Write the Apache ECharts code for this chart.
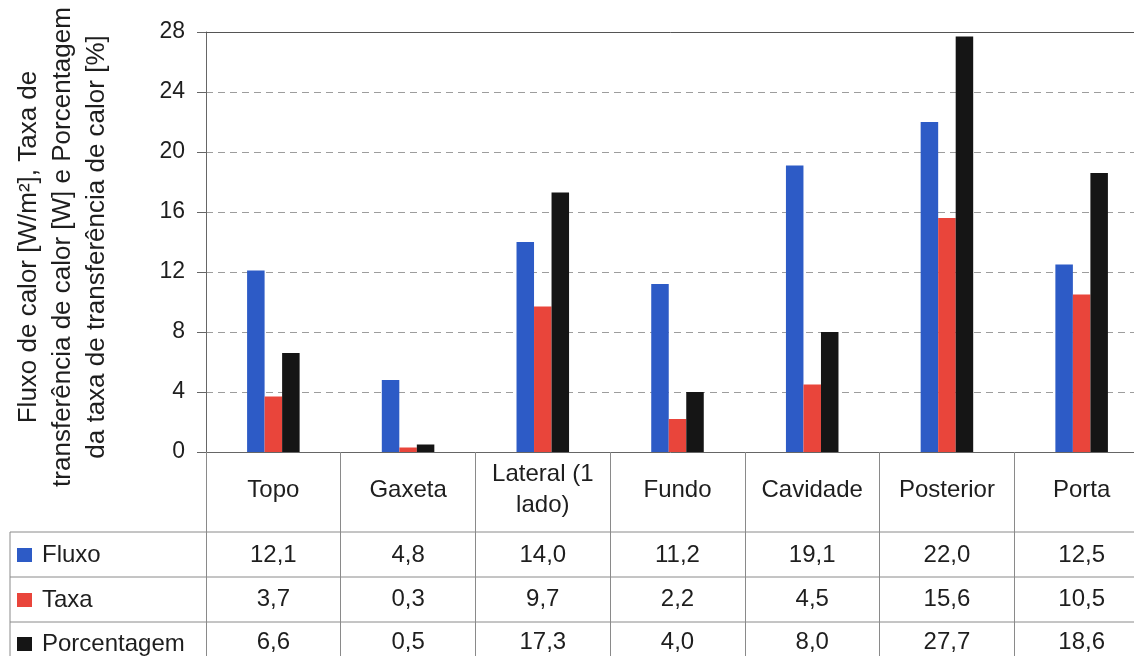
<!DOCTYPE html>
<html>
<head>
<meta charset="utf-8">
<script src="https://cdn.jsdelivr.net/npm/echarts@6/dist/echarts.min.js"></script>
<style>
  html, body { margin: 0; padding: 0; background: #fff; }
  #chart { width: 1134px; height: 656px; }
</style>
</head>
<body>
<div id="chart"></div>
<script>
// Regiões do refrigerador
const categories = ['Topo', 'Gaxeta', 'Lateral (1\nlado)', 'Fundo', 'Cavidade', 'Posterior', 'Porta'];
// Fluxo de calor [W/m²]
const fluxo = [12.1, 4.8, 14.0, 11.2, 19.1, 22.0, 12.5];
// Taxa de transferência de calor [W]
const taxa = [3.7, 0.3, 9.7, 2.2, 4.5, 15.6, 10.5];
// Porcentagem da taxa de transferência de calor [%]
const porcentagem = [6.6, 0.5, 17.3, 4.0, 8.0, 27.7, 18.6];

const seriesNames = ['Fluxo', 'Taxa', 'Porcentagem'];
const seriesColors = ['#2D5BC6', '#E9453B', '#151515'];
const yTicks = { min: 0, max: 28, interval: 4 };

const FONT = 'Liberation Sans, Arial, sans-serif';
const TXT = '#1e1e1e';
const LINE = '#8a8a8a';
const TABLE_FONT = 24;

// formato decimal com vírgula
const fmt = v => v.toFixed(1).replace('.', ',');

// linhas de valores da tabela de dados, abaixo das categorias
const tableRows = [fluxo, taxa, porcentagem];
const rowCenters = [103, 147, 190]; // distância do eixo ao centro de cada linha
const tableAxes = tableRows.map((vals, i) => ({
  type: 'category',
  gridIndex: 0,
  position: 'bottom',
  data: vals.map(fmt),
  axisLine: { show: false },
  axisTick: { show: false },
  splitLine: { show: false },
  axisLabel: {
    interval: 0,
    margin: rowCenters[i],
    verticalAlign: 'middle',
    fontFamily: FONT,
    fontSize: TABLE_FONT,
    color: TXT
  }
}));

// uma legenda por linha da tabela, na coluna da esquerda
const legendTops = [543, 588, 632];
const legends = seriesNames.map((name, i) => ({
  orient: 'vertical',
  left: 17,
  top: legendTops[i],
  padding: 0,
  itemWidth: 15,
  itemHeight: 14,
  icon: 'rect',
  data: [name],
  textStyle: { fontFamily: FONT, fontSize: TABLE_FONT, lineHeight: 24, color: TXT, padding: [0, 0, 0, 5] }
}));

const chart = echarts.init(document.getElementById('chart'), null, { renderer: 'canvas' });

const option = {
  backgroundColor: '#ffffff',
  animation: false,
  grid: { left: 206, top: 32, width: 943, height: 420, containLabel: false, outerBoundsMode: 'none' },
  legend: legends,
  xAxis: [
    {
      type: 'category',
      data: categories,
      position: 'bottom',
      axisLine: { show: true, lineStyle: { color: '#666', width: 1 } },
      axisTick: { show: true, interval: 0, length: 204, lineStyle: { color: LINE, width: 1 } },
      axisLabel: {
        interval: 0,
        margin: 38,
        verticalAlign: 'middle',
        lineHeight: 31,
        fontFamily: FONT,
        fontSize: TABLE_FONT,
        color: TXT
      },
      splitLine: { show: false }
    },
    {
      // borda superior da área do gráfico
      type: 'category',
      data: categories,
      position: 'top',
      axisLine: { show: true, lineStyle: { color: '#555', width: 1 } },
      axisTick: { show: false },
      axisLabel: { show: false },
      splitLine: { show: false }
    },
    ...tableAxes
  ],
  yAxis: {
    type: 'value',
    min: yTicks.min,
    max: yTicks.max,
    interval: yTicks.interval,
    name: 'Fluxo de calor [W/m²], Taxa de\ntransferência de calor [W] e Porcentagem\nda taxa de transferência de calor [%]',
    nameLocation: 'middle',
    nameGap: 92,
    nameTextStyle: { fontFamily: FONT, fontSize: 26, lineHeight: 34, color: TXT, align: 'center', padding: [0, 10, 0, 0] },
    axisLine: { show: true, lineStyle: { color: '#666', width: 1 } },
    axisTick: { show: true, length: 9, lineStyle: { color: '#666', width: 1 } },
    axisLabel: { margin: 21, fontFamily: FONT, fontSize: 23, color: TXT },
    splitLine: { show: true, lineStyle: { color: '#9d9d9d', width: 1, type: [7, 5] } }
  },
  series: [fluxo, taxa, porcentagem].map((vals, i) => ({
    name: seriesNames[i],
    type: 'bar',
    xAxisIndex: 0,
    yAxisIndex: 0,
    data: vals,
    barWidth: '13%',
    barGap: '0%',
    itemStyle: { color: seriesColors[i] }
  }))
};

chart.setOption(option);

// linhas horizontais da tabela de dados e borda esquerda da coluna da legenda
const rowLines = [532, 577, 622];
const graphics = rowLines.map(y => ({
  type: 'line',
  shape: { x1: 10, y1: y, x2: 1134, y2: y },
  style: { stroke: LINE, lineWidth: 1 },
  silent: true
}));
graphics.push({
  type: 'line',
  shape: { x1: 10, y1: rowLines[0], x2: 10, y2: 656 },
  style: { stroke: LINE, lineWidth: 1 },
  silent: true
});
chart.setOption({ graphic: graphics });
</script>
</body>
</html>
